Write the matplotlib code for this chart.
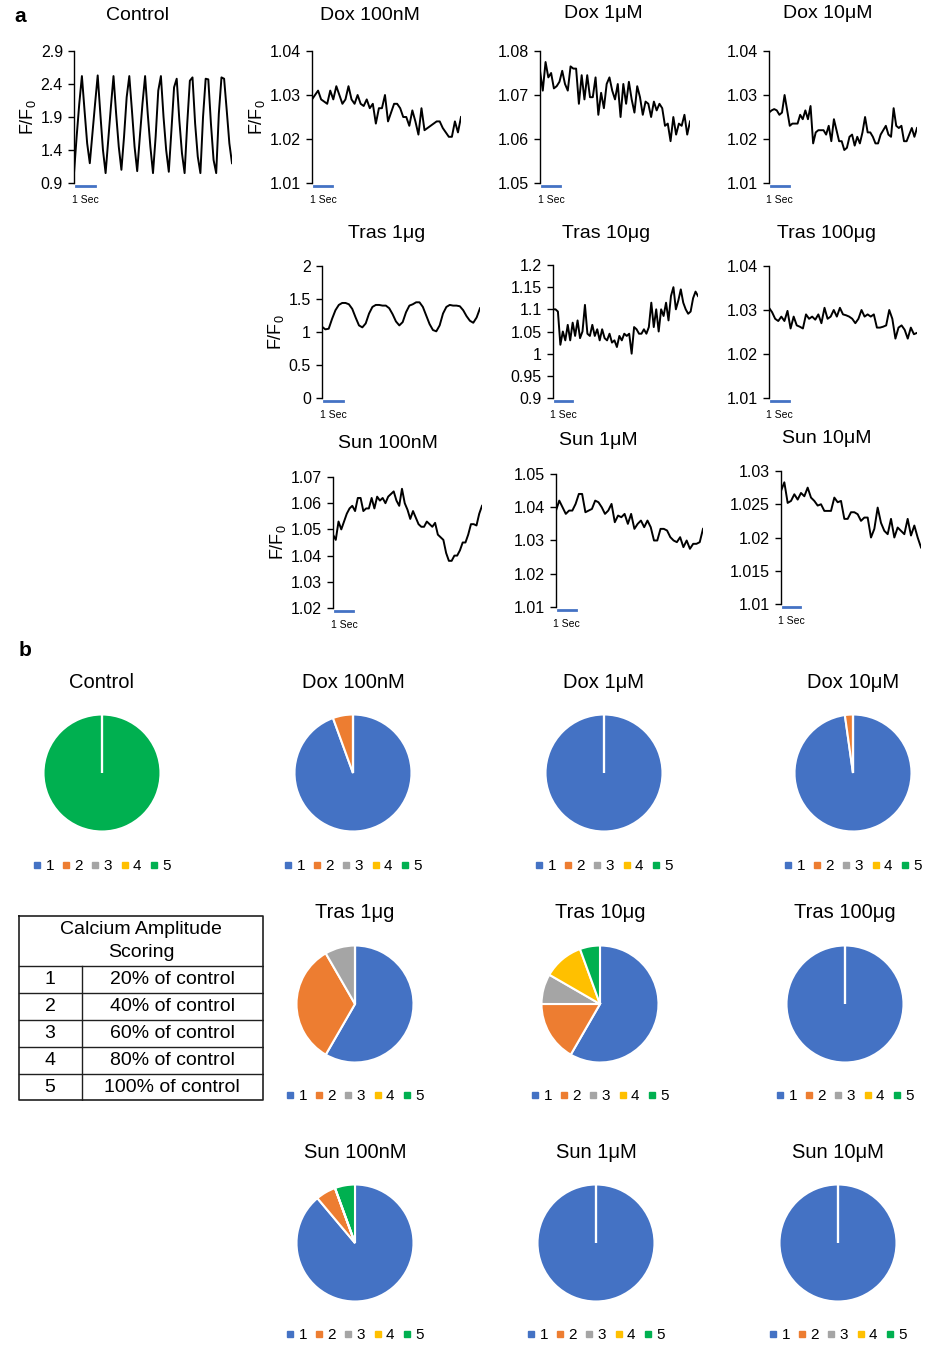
import numpy as np
import matplotlib
matplotlib.use("Agg")
import matplotlib.pyplot as plt
from matplotlib.lines import Line2D
from matplotlib.transforms import blended_transform_factory

plt.rcParams['font.family'] = ['Liberation Sans', 'DejaVu Sans']
plt.rcParams['mathtext.fontset'] = 'custom'
plt.rcParams['mathtext.rm'] = 'Liberation Sans'
plt.rcParams['mathtext.it'] = 'Liberation Sans:italic'

W, H = 929, 1346
REC_SEC = 8.2  # length of each recording, seconds

# ---- calcium transients (F/F0) ----
control = [1.05, 1.6, 2.1, 2.52, 2.0, 1.5,
           1.2, 1.65, 2.1, 2.53, 1.95, 1.4,
           1.05, 1.55, 2.05, 2.52, 1.95, 1.45,
           1.1, 1.6, 2.2, 2.52, 2.0, 1.45,
           1.08, 1.6, 2.1, 2.52, 1.95, 1.45,
           1.05, 1.6, 2.3, 2.52, 1.9, 1.4,
           1.07, 1.7, 2.35, 2.48, 1.85, 1.35,
           1.05, 1.8, 2.45, 2.5, 1.8, 1.3,
           1.05, 1.9, 2.48, 2.47, 1.8, 1.25,
           1.05, 1.95, 2.5, 2.48, 2.0, 1.5, 1.2]
dox_100nM = [1.029, 1.030, 1.031, 1.029, 1.0285, 1.028, 1.031, 1.029, 1.032, 1.030,
             1.028, 1.029, 1.032, 1.029, 1.028, 1.030, 1.028, 1.0275, 1.029, 1.027,
             1.028, 1.0235, 1.027, 1.027, 1.030, 1.024, 1.026, 1.028, 1.028, 1.027,
             1.025, 1.025, 1.023, 1.0265, 1.024, 1.021, 1.027, 1.022, 1.0225, 1.023,
             1.0235, 1.024, 1.024, 1.0225, 1.0215, 1.0205, 1.0205, 1.024, 1.0215, 1.025]
dox_1uM = [1.0755, 1.071, 1.0775, 1.074, 1.075, 1.0715, 1.072, 1.073, 1.0755, 1.0725,
           1.071, 1.0765, 1.076, 1.076, 1.068, 1.0745, 1.069, 1.0745, 1.0695, 1.0695,
           1.074, 1.0655, 1.0705, 1.067, 1.0725, 1.074, 1.071, 1.069, 1.0725, 1.065,
           1.0725, 1.068, 1.073, 1.069, 1.066, 1.072, 1.0695, 1.0655, 1.0685, 1.068,
           1.065, 1.0685, 1.0665, 1.068, 1.067, 1.063, 1.0635, 1.0595, 1.065, 1.061,
           1.0635, 1.063, 1.0655, 1.061, 1.064]
dox_10uM = [1.026, 1.0265, 1.0268, 1.0265, 1.0255, 1.026, 1.030, 1.0265, 1.023, 1.0235,
            1.0235, 1.0235, 1.0255, 1.0245, 1.0265, 1.0245, 1.0275, 1.019, 1.0215, 1.022,
            1.022, 1.022, 1.021, 1.023, 1.0195, 1.0245, 1.022, 1.0195, 1.0195, 1.0175,
            1.018, 1.0205, 1.021, 1.0185, 1.0205, 1.019, 1.0215, 1.025, 1.0215, 1.0215,
            1.0205, 1.019, 1.019, 1.021, 1.022, 1.023, 1.021, 1.0205, 1.027, 1.023,
            1.0225, 1.023, 1.0195, 1.0195, 1.021, 1.0225, 1.0205, 1.0225]
tras_1ug = [1.08, 1.04, 1.05, 1.20, 1.33, 1.41, 1.44, 1.44, 1.42, 1.35,
            1.22, 1.10, 1.07, 1.13, 1.28, 1.38, 1.41, 1.41, 1.40, 1.40,
            1.36, 1.27, 1.16, 1.10, 1.15, 1.30, 1.40, 1.42, 1.45, 1.45,
            1.38, 1.25, 1.12, 1.03, 1.01, 1.10, 1.28, 1.38, 1.41, 1.40,
            1.40, 1.39, 1.33, 1.24, 1.17, 1.14, 1.22, 1.36]
tras_10ug = [1.10, 1.10, 1.095, 1.02, 1.05, 1.03, 1.065, 1.03, 1.07, 1.04,
             1.075, 1.035, 1.05, 1.11, 1.045, 1.04, 1.065, 1.04, 1.055, 1.03,
             1.055, 1.035, 1.03, 1.045, 1.025, 1.03, 1.015, 1.04, 1.03, 1.045,
             1.04, 1.045, 1.0, 1.06, 1.055, 1.045, 1.045, 1.055, 1.045, 1.06,
             1.115, 1.06, 1.10, 1.05, 1.10, 1.085, 1.115, 1.075, 1.13, 1.15,
             1.10, 1.12, 1.145, 1.115, 1.10, 1.09, 1.095, 1.125, 1.14, 1.13]
tras_100ug = [1.0305, 1.0295, 1.028, 1.0275, 1.0285, 1.0275, 1.0298, 1.0258, 1.0285, 1.0265,
              1.0262, 1.0258, 1.029, 1.028, 1.0285, 1.0278, 1.029, 1.027, 1.0305, 1.028,
              1.0285, 1.030, 1.0285, 1.0305, 1.029, 1.0288, 1.0285, 1.028, 1.027, 1.028,
              1.030, 1.0285, 1.029, 1.0285, 1.029, 1.026, 1.026, 1.0262, 1.0265, 1.030,
              1.028, 1.0235, 1.026, 1.0265, 1.0255, 1.0235, 1.026, 1.0245, 1.0248]
sun_100nM = [1.048, 1.046, 1.053, 1.050, 1.053, 1.056, 1.058, 1.059, 1.057, 1.062,
             1.062, 1.057, 1.058, 1.058, 1.062, 1.058, 1.0625, 1.061, 1.062, 1.060,
             1.0625, 1.0635, 1.0645, 1.061, 1.059, 1.0655, 1.060, 1.0575, 1.054, 1.057,
             1.0545, 1.052, 1.051, 1.051, 1.053, 1.052, 1.051, 1.0525, 1.048, 1.047,
             1.046, 1.041, 1.038, 1.038, 1.040, 1.040, 1.042, 1.045, 1.045, 1.048,
             1.052, 1.052, 1.0515, 1.056, 1.059]
sun_1uM = [1.039, 1.042, 1.040, 1.038, 1.039, 1.039, 1.041, 1.044, 1.044, 1.0385,
           1.039, 1.0395, 1.042, 1.0415, 1.040, 1.038, 1.039, 1.041, 1.0355, 1.0375,
           1.037, 1.038, 1.035, 1.038, 1.0335, 1.035, 1.036, 1.034, 1.036, 1.034,
           1.030, 1.030, 1.0335, 1.0335, 1.033, 1.031, 1.030, 1.0295, 1.031, 1.028,
           1.030, 1.0275, 1.029, 1.029, 1.0295, 1.0335]
sun_10uM = [1.027, 1.0283, 1.0252, 1.0255, 1.0265, 1.0257, 1.0267, 1.0262, 1.0275, 1.026,
            1.0255, 1.0248, 1.025, 1.024, 1.024, 1.024, 1.026, 1.0253, 1.0255, 1.0228,
            1.0228, 1.0238, 1.0238, 1.0235, 1.0225, 1.023, 1.023, 1.020, 1.0213, 1.0245,
            1.0222, 1.021, 1.0205, 1.0228, 1.020, 1.0215, 1.021, 1.0205, 1.0228, 1.0203,
            1.0218, 1.020, 1.0185]

# ---- amplitude scoring counts (scores 1..5) ----
score_labels = ['1', '2', '3', '4', '5']
score_colors = ['#4472C4', '#ED7D31', '#A5A5A5', '#FFC000', '#00B050']
pie_control = [0, 0, 0, 0, 1]
pie_dox_100nM = [17, 1, 0, 0, 0]
pie_dox_1uM = [1, 0, 0, 0, 0]
pie_dox_10uM = [44, 1, 0, 0, 0]
pie_tras_1ug = [7, 4, 1, 0, 0]
pie_tras_10ug = [21, 6, 3, 4, 2]
pie_tras_100ug = [1, 0, 0, 0, 0]
pie_sun_100nM = [16, 1, 0, 0, 1]
pie_sun_1uM = [1, 0, 0, 0, 0]
pie_sun_10uM = [1, 0, 0, 0, 0]

table_scores = ['1', '2', '3', '4', '5']
table_meaning = ['20% of control', '40% of control', '60% of control',
                 '80% of control', '100% of control']


def rect(l, t, r, b):
    return [l / W, 1 - b / H, (r - l) / W, (b - t) / H]


fig = plt.figure(figsize=(W / 100, H / 100), dpi=100)


def trace(box, title, title_xy, vals, yticks, ylabel=False):
    ax = fig.add_axes(rect(*box))
    t = np.linspace(0, REC_SEC, len(vals))
    ax.plot(t, vals, color='black', lw=1.4)
    ax.set_xlim(0, REC_SEC)
    ax.set_ylim(yticks[0], yticks[-1])
    ax.set_yticks(yticks)
    ax.set_yticklabels([f'{v:g}' for v in yticks])
    ax.set_xticks([])
    for s in ['top', 'right', 'bottom']:
        ax.spines[s].set_visible(False)
    ax.spines['left'].set_linewidth(1.0)
    ax.tick_params(axis='y', direction='out', length=4, width=1, labelsize=11.5, pad=4)
    if ylabel:
        ax.set_ylabel('F/F$_0$', fontsize=13, labelpad=2)
    # 1 second scale bar
    tr = blended_transform_factory(ax.transData, ax.transAxes)
    ax.plot([0.1, 1.1], [-0.02, -0.02], color='#4472C4', lw=2, transform=tr, clip_on=False)
    ax.text(0.6, -0.13, '1 Sec', transform=tr, ha='center', va='center', fontsize=7.5)
    fig.text(title_xy[0] / W, 1 - title_xy[1] / H, title, ha='center', va='center', fontsize=14)
    return ax


trace((74, 51, 232, 183), 'Control', (138, 16), control, [0.9, 1.4, 1.9, 2.4, 2.9], ylabel=True)
trace((312, 51, 461, 183), 'Dox 100nM', (370, 15), dox_100nM, [1.01, 1.02, 1.03, 1.04], ylabel=True)
trace((540, 51, 690, 183), 'Dox 1μM', (603, 13), dox_1uM, [1.05, 1.06, 1.07, 1.08])
trace((769, 51, 917, 183), 'Dox 10μM', (828, 13), dox_10uM, [1.01, 1.02, 1.03, 1.04])

trace((322, 266, 480, 398), 'Tras 1μg', (387, 234), tras_1ug, [0, 0.5, 1, 1.5, 2], ylabel=True)
trace((553, 265, 698, 398), 'Tras 10μg', (606, 233), tras_10ug, [0.9, 0.95, 1, 1.05, 1.1, 1.15, 1.2])
trace((769, 266, 917, 398), 'Tras 100μg', (827, 233), tras_100ug, [1.01, 1.02, 1.03, 1.04])

trace((333, 477, 482, 608), 'Sun 100nM', (388, 444), sun_100nM, [1.02, 1.03, 1.04, 1.05, 1.06, 1.07], ylabel=True)
trace((556, 474, 703, 607), 'Sun 1μM', (598, 441), sun_1uM, [1.01, 1.02, 1.03, 1.04, 1.05])
trace((781, 471, 921, 604), 'Sun 10μM', (827, 439), sun_10uM, [1.01, 1.015, 1.02, 1.025, 1.03])


def pie(center, r, title, title_y, legend_y, vals):
    cx, cy = center
    ax = fig.add_axes(rect(cx - r, cy - r, cx + r, cy + r))
    wedges, _ = ax.pie(vals, colors=score_colors, startangle=90, counterclock=False,
                       wedgeprops=dict(edgecolor='white', linewidth=1.5))
    for w, v in zip(wedges, vals):
        if v == 0:
            w.set_zorder(3)
    ax.set_xlim(-1, 1)
    ax.set_ylim(-1, 1)
    ax.set_aspect('equal')
    fig.text(cx / W, 1 - title_y / H, title, ha='center', va='center', fontsize=14.5)
    handles = [Line2D([], [], marker='s', color=c, ls='none', markersize=4) for c in score_colors]
    ax.legend(handles, score_labels, loc='center', bbox_to_anchor=(cx / W, 1 - legend_y / H),
              bbox_transform=fig.transFigure, ncol=5, frameon=False, fontsize=11,
              handlelength=0.5, handletextpad=0.3, columnspacing=0.55, borderpad=0)


R = 58.5
pie((102, 773), R, 'Control', 682, 866, pie_control)
pie((353, 773), R, 'Dox 100nM', 682, 866, pie_dox_100nM)
pie((604, 773), R, 'Dox 1μM', 682, 866, pie_dox_1uM)
pie((853, 773), R, 'Dox 10μM', 682, 866, pie_dox_10uM)
pie((355, 1004), R, 'Tras 1μg', 913, 1096, pie_tras_1ug)
pie((600, 1004), R, 'Tras 10μg', 913, 1096, pie_tras_10ug)
pie((845, 1004), R, 'Tras 100μg', 913, 1096, pie_tras_100ug)
pie((355, 1243), R, 'Sun 100nM', 1152, 1335, pie_sun_100nM)
pie((596, 1243), R, 'Sun 1μM', 1152, 1335, pie_sun_1uM)
pie((838, 1243), R, 'Sun 10μM', 1152, 1335, pie_sun_10uM)

# scoring table
tab = fig.add_axes(rect(18, 915, 264, 1101))
tab.set_xlim(18, 264)
tab.set_ylim(1101, 915)
tab.axis('off')
lc = '#202020'
tab.plot([19, 263, 263, 19, 19], [916, 916, 1100, 1100, 916], color=lc, lw=1.2)
rows = [966, 993, 1020, 1047, 1074, 1100]
for y in rows[:-1]:
    tab.plot([19, 263], [y, y], color=lc, lw=1.0)
tab.plot([82, 82], [966, 1100], color=lc, lw=1.0)
tab.text(141, 941, 'Calcium Amplitude\nScoring', ha='center', va='center', fontsize=14,
         linespacing=1.4)
for i, (s, m) in enumerate(zip(table_scores, table_meaning)):
    yc = (rows[i] + rows[i + 1]) / 2
    tab.text(50, yc, s, ha='center', va='center', fontsize=14)
    tab.text(172, yc, m, ha='center', va='center', fontsize=14)

fig.text(20 / W, 1 - 17 / H, 'a', fontsize=15, fontweight='bold', ha='center', va='center')
fig.text(25 / W, 1 - 650 / H, 'b', fontsize=15, fontweight='bold', ha='center', va='center')

fig.savefig('out.png', dpi=100, facecolor='white')
